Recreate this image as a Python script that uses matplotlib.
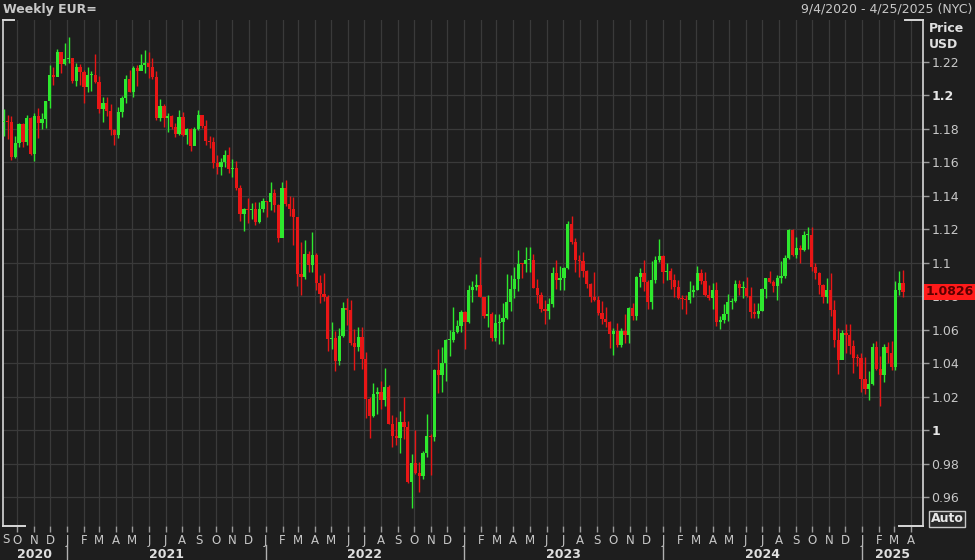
import matplotlib
matplotlib.use("Agg")
import matplotlib.pyplot as plt
import matplotlib.dates as mdates
import matplotlib.transforms as mtransforms
import numpy as np
import pandas as pd

# ---------------- data (weekly EUR/USD) ----------------
first_week = "2020-09-04"
first_open = 1.1905

close = [
    1.1837, 1.1845, 1.1838, 1.1631, 1.1715, 1.1826, 1.1717, 1.1860, 1.1647, 1.1876,
    1.1834, 1.1857, 1.1963, 1.2122, 1.2110, 1.2256, 1.2187, 1.2216, 1.2219, 1.2082,
    1.2170, 1.2136, 1.2046, 1.2118, 1.2120, 1.2075, 1.1915, 1.1952, 1.1904, 1.1794,
    1.1762, 1.1900, 1.1984, 1.2097, 1.2020, 1.2164, 1.2146, 1.2180, 1.2193, 1.2166,
    1.2108, 1.1864, 1.1937, 1.1865, 1.1876, 1.1810, 1.1770, 1.1870, 1.1761, 1.1795,
    1.1697, 1.1795, 1.1880, 1.1813, 1.1727, 1.1720, 1.1596, 1.1570, 1.1601, 1.1644,
    1.1558, 1.1567, 1.1446, 1.1289, 1.1318, 1.1315, 1.1317, 1.1239, 1.1320, 1.1370,
    1.1359, 1.1413, 1.1343, 1.1146, 1.1446, 1.1350, 1.1321, 1.1269, 1.0929, 1.0912,
    1.1050, 1.0983, 1.1046, 1.0876, 1.0811, 1.0797, 1.0545, 1.0551, 1.0412, 1.0562,
    1.0730, 1.0719, 1.0520, 1.0497, 1.0555, 1.0425, 1.0186, 1.0081, 1.0212, 1.0225,
    1.0182, 1.0258, 1.0037, 0.9965, 0.9953, 1.0045, 1.0016, 0.9690, 0.9802, 0.9741,
    0.9723, 0.9863, 0.9965, 0.9960, 1.0356, 1.0326, 1.0398, 1.0537, 1.0537, 1.0585,
    1.0618, 1.0705, 1.0643, 1.0834, 1.0855, 1.0868, 1.0796, 1.0678, 1.0694, 1.0548,
    1.0637, 1.0642, 1.0671, 1.0762, 1.0840, 1.0903, 1.0993, 1.0991, 1.1015, 1.1017,
    1.0850, 1.0805, 1.0722, 1.0708, 1.0750, 1.0940, 1.0895, 1.0910, 1.0969, 1.1228,
    1.1125, 1.1016, 1.1007, 1.0949, 1.0871, 1.0795, 1.0775, 1.0699, 1.0660, 1.0646,
    1.0573, 1.0589, 1.0510, 1.0594, 1.0566, 1.0728, 1.0683, 1.0914, 1.0940, 1.0885,
    1.0763, 1.0896, 1.1012, 1.1039, 1.0942, 1.0950, 1.0897, 1.0853, 1.0788, 1.0784,
    1.0776, 1.0821, 1.0838, 1.0938, 1.0888, 1.0808, 1.0790, 1.0837, 1.0642, 1.0656,
    1.0693, 1.0762, 1.0771, 1.0870, 1.0847, 1.0848, 1.0801, 1.0704, 1.0692, 1.0713,
    1.0840, 1.0908, 1.0883, 1.0857, 1.0910, 1.0917, 1.1027, 1.1192, 1.1047, 1.1085,
    1.1076, 1.1163, 1.1164, 1.0975, 1.0937, 1.0867, 1.0797, 1.0834, 1.0718, 1.0540,
    1.0416, 1.0577, 1.0567, 1.0500, 1.0428, 1.0427, 1.0307, 1.0244, 1.0272, 1.0496,
    1.0362, 1.0329, 1.0493, 1.0459, 1.0375, 1.0833, 1.0879, 1.0826,
]

high = [
    1.2011, 1.1917, 1.1882, 1.1873, 1.1754, 1.1831, 1.1830, 1.1881, 1.1870, 1.1892,
    1.1920, 1.1891, 1.1964, 1.2177, 1.2167, 1.2273, 1.2250, 1.2310, 1.2349, 1.2223,
    1.2190, 1.2184, 1.2150, 1.2169, 1.2146, 1.2243, 1.2114, 1.1990, 1.1989, 1.1945,
    1.1797, 1.1927, 1.1994, 1.2117, 1.2150, 1.2173, 1.2182, 1.2245, 1.2266, 1.2254,
    1.2218, 1.2145, 1.1975, 1.1944, 1.1895, 1.1880, 1.1835, 1.1909, 1.1900, 1.1804,
    1.1802, 1.1807, 1.1909, 1.1883, 1.1849, 1.1755, 1.1750, 1.1640, 1.1624, 1.1669,
    1.1692, 1.1616, 1.1608, 1.1464, 1.1325, 1.1383, 1.1355, 1.1360, 1.1360, 1.1386,
    1.1368, 1.1482, 1.1438, 1.1347, 1.1483, 1.1495, 1.1395, 1.1391, 1.1270, 1.1121,
    1.1137, 1.1070, 1.1185, 1.1054, 1.0924, 1.0936, 1.0806, 1.0642, 1.0594, 1.0607,
    1.0765, 1.0787, 1.0774, 1.0601, 1.0614, 1.0615, 1.0463, 1.0200, 1.0279, 1.0255,
    1.0293, 1.0369, 1.0268, 1.0090, 1.0079, 1.0113, 1.0198, 1.0051, 0.9854, 0.9999,
    0.9809, 0.9874, 1.0094, 0.9976, 1.0364, 1.0481, 1.0497, 1.0545, 1.0595, 1.0737,
    1.0659, 1.0714, 1.0713, 1.0868, 1.0887, 1.0929, 1.1033, 1.0794, 1.0805, 1.0705,
    1.0691, 1.0695, 1.0760, 1.0930, 1.0925, 1.0973, 1.1075, 1.0999, 1.1095, 1.1092,
    1.1050, 1.0904, 1.0826, 1.0779, 1.0787, 1.0971, 1.1012, 1.0977, 1.0975, 1.1245,
    1.1276, 1.1149, 1.1046, 1.1065, 1.0955, 1.0876, 1.0945, 1.0800, 1.0769, 1.0737,
    1.0652, 1.0610, 1.0640, 1.0609, 1.0695, 1.0732, 1.0756, 1.0918, 1.0965, 1.1017,
    1.0895, 1.1009, 1.1040, 1.1140, 1.1046, 1.0998, 1.0970, 1.0932, 1.0897, 1.0806,
    1.0806, 1.0888, 1.0865, 1.0981, 1.0964, 1.0942, 1.0865, 1.0876, 1.0885, 1.0679,
    1.0754, 1.0812, 1.0791, 1.0895, 1.0895, 1.0889, 1.0916, 1.0852, 1.0761, 1.0760,
    1.0845, 1.0910, 1.0948, 1.0898, 1.0925, 1.1009, 1.1047, 1.1200, 1.1202, 1.1155,
    1.1102, 1.1189, 1.1214, 1.1209, 1.0995, 1.0942, 1.0873, 1.0905, 1.0937, 1.0774,
    1.0610, 1.0597, 1.0630, 1.0630, 1.0536, 1.0456, 1.0458, 1.0437, 1.0354, 1.0521,
    1.0533, 1.0443, 1.0513, 1.0528, 1.0529, 1.0888, 1.0947, 1.0955,
]

low = [
    1.1789, 1.1753, 1.1737, 1.1612, 1.1625, 1.1689, 1.1689, 1.1703, 1.1641, 1.1603,
    1.1745, 1.1800, 1.1801, 1.1923, 1.2058, 1.2126, 1.2130, 1.2178, 1.2193, 1.2074,
    1.2054, 1.2059, 1.1952, 1.2020, 1.2023, 1.2070, 1.1894, 1.1836, 1.1873, 1.1762,
    1.1704, 1.1742, 1.1867, 1.1951, 1.2017, 1.1986, 1.2051, 1.2160, 1.2134, 1.2104,
    1.2094, 1.1848, 1.1847, 1.1807, 1.1782, 1.1795, 1.1752, 1.1760, 1.1758, 1.1706,
    1.1664, 1.1702, 1.1791, 1.1801, 1.1700, 1.1684, 1.1563, 1.1529, 1.1522, 1.1571,
    1.1535, 1.1513, 1.1433, 1.1250, 1.1186, 1.1235, 1.1262, 1.1222, 1.1237, 1.1300,
    1.1272, 1.1313, 1.1301, 1.1121, 1.1154, 1.1340, 1.1280, 1.1106, 1.0862, 1.0806,
    1.0899, 1.0945, 1.0945, 1.0837, 1.0757, 1.0771, 1.0471, 1.0483, 1.0350, 1.0389,
    1.0554, 1.0628, 1.0507, 1.0359, 1.0469, 1.0366, 1.0072, 0.9952, 1.0079, 1.0097,
    1.0123, 1.0141, 1.0034, 0.9900, 0.9910, 0.9864, 0.9945, 0.9685, 0.9536, 0.9735,
    0.9632, 0.9705, 0.9841, 0.9730, 0.9936, 1.0223, 1.0224, 1.0290, 1.0443, 1.0525,
    1.0577, 1.0587, 1.0483, 1.0637, 1.0766, 1.0833, 1.0794, 1.0669, 1.0613, 1.0533,
    1.0533, 1.0516, 1.0516, 1.0660, 1.0713, 1.0788, 1.0830, 1.0908, 1.0944, 1.0941,
    1.0848, 1.0760, 1.0707, 1.0635, 1.0663, 1.0732, 1.0844, 1.0835, 1.0833, 1.0963,
    1.1113, 1.0944, 1.0912, 1.0916, 1.0845, 1.0766, 1.0771, 1.0686, 1.0632, 1.0615,
    1.0488, 1.0448, 1.0496, 1.0497, 1.0522, 1.0517, 1.0657, 1.0655, 1.0853, 1.0828,
    1.0723, 1.0723, 1.0880, 1.1004, 1.0877, 1.0897, 1.0844, 1.0795, 1.0780, 1.0722,
    1.0695, 1.0761, 1.0796, 1.0835, 1.0873, 1.0802, 1.0776, 1.0724, 1.0622, 1.0601,
    1.0639, 1.0650, 1.0724, 1.0765, 1.0805, 1.0788, 1.0795, 1.0668, 1.0671, 1.0666,
    1.0710, 1.0790, 1.0877, 1.0825, 1.0777, 1.0880, 1.0908, 1.1020, 1.1040, 1.1026,
    1.0999, 1.1068, 1.1083, 1.0951, 1.0902, 1.0811, 1.0761, 1.0760, 1.0682, 1.0496,
    1.0332, 1.0424, 1.0460, 1.0452, 1.0343, 1.0380, 1.0226, 1.0215, 1.0178, 1.0266,
    1.0358, 1.0141, 1.0284, 1.0401, 1.0359, 1.0360, 1.0807, 1.0797,
]

price_ticks = [0.96, 0.98, 1.00, 1.02, 1.04, 1.06, 1.08, 1.10, 1.12, 1.14, 1.16, 1.18, 1.20, 1.22]
price_labels = ["0.96", "0.98", "1", "1.02", "1.04", "1.06", "1.08", "1.1", "1.12", "1.14",
                "1.16", "1.18", "1.2", "1.22"]
last_label = "1.0826"
title_left = "Weekly EUR="
title_right = "9/4/2020 - 4/25/2025 (NYC)"
years = [2020, 2021, 2022, 2023, 2024, 2025]

# ---------------- styling ----------------
BG = "#1e1e1e"
GRID = "#3a3a3a"
TXT = "#c8c8c8"
UP = "#2ee82e"
DOWN = "#e81616"
NARROW = ["Liberation Sans Narrow", "DejaVu Sans"]

W, H = 975, 560
fig = plt.figure(figsize=(W / 100, H / 100), dpi=100, facecolor=BG)
ax_l, ax_r, ax_t, ax_b = 3, 923, 20, 526
ax = fig.add_axes([ax_l / W, 1 - ax_b / H, (ax_r - ax_l) / W, (ax_b - ax_t) / H])
ax.set_facecolor(BG)

n = len(close)
fridays = pd.date_range(first_week, periods=n, freq="W-FRI")
pos = mdates.date2num(fridays - pd.Timedelta(days=4))
opens = np.array([first_open] + close[:-1])
closes = np.array(close)
highs = np.array(high)
lows = np.array(low)
up = closes >= opens
colors = np.where(up, UP, DOWN)

ax.vlines(pos, lows, highs, colors=colors, linewidth=1.0, zorder=3)
body_bottom = np.minimum(opens, closes)
body_h = np.maximum(np.abs(closes - opens), 0.0007)
ax.bar(pos, body_h, bottom=body_bottom, width=6.0, color=colors, edgecolor="none",
       zorder=4)

# axes limits: 3.81 px per week, Jan 1 2021 at x=67 px
ref = mdates.date2num(pd.Timestamp("2021-01-01"))
px_per_day = 3.81 / 7
ax.set_xlim(ref - (67 - ax_l) / px_per_day, ref + (ax_r - 67) / px_per_day)
px_per_unit = 1675.0
ax.set_ylim(1 - (ax_b - 430) / px_per_unit, 1 + (430 - ax_t) / px_per_unit)

# month ticks (September 2020 starts just left of the frame; its label is pinned)
months = pd.date_range("2020-10-01", "2025-04-01", freq="MS")
mnum = mdates.date2num(months)
ax.set_xticks(mnum)
ax.set_xticklabels([m.strftime("%b")[0] for m in months])
ax.tick_params(axis="x", colors="#9a9a9a", labelcolor=TXT, length=4, width=1,
               labelsize=8.5, pad=2, direction="out")
for lbl in ax.get_xticklabels():
    lbl.set_fontfamily(NARROW)
fig.text(2 / W, 1 - 533 / H, "S", ha="left", va="top", color=TXT,
         fontsize=8.5, family=NARROW)

# price axis on the right
ax.yaxis.tick_right()
ax.set_yticks(price_ticks)
ax.set_yticklabels(price_labels)
ax.tick_params(axis="y", colors="#9a9a9a", labelcolor=TXT, length=4, width=1,
               labelsize=9, pad=2)
for lbl in ax.get_yticklabels():
    if lbl.get_text() in ("1", "1.2"):
        lbl.set_fontweight("bold")
        lbl.set_color("#e6e6e6")

ax.grid(True, color=GRID, linewidth=0.9)
ax.set_axisbelow(True)

for s in ("top", "bottom"):
    ax.spines[s].set_visible(False)
for s in ("left", "right"):
    ax.spines[s].set_color("#d8d8d8")
    ax.spines[s].set_linewidth(1.2)

# corner brackets
def hline_px(x0, x1, y):
    fig.add_artist(plt.Line2D([x0 / W, x1 / W], [1 - y / H, 1 - y / H],
                              color="#d8d8d8", linewidth=1.4))

hline_px(ax_l, 14, ax_t)
hline_px(905, ax_r, ax_t)
hline_px(ax_l, 25, ax_b)
hline_px(899, ax_r, ax_b)

# year labels and separators
trans = mtransforms.blended_transform_factory(ax.transData, fig.transFigure)
xmin, xmax = ax.get_xlim()
for y in years:
    a = max(mdates.date2num(pd.Timestamp(f"{y}-01-01")), xmin)
    b = min(mdates.date2num(pd.Timestamp(f"{y + 1}-01-01")), xmax)
    ax.text((a + b) / 2, 1 - 554 / H, str(y), transform=trans, ha="center",
            va="center", color="#e0e0e0", fontsize=9, fontweight="bold",
            clip_on=False)
    if y > years[0]:
        sx = mdates.date2num(pd.Timestamp(f"{y}-01-01"))
        ax.add_line(plt.Line2D([sx, sx], [0.0, 1 - 545 / H], transform=trans,
                               color="#b0b0b0", linewidth=1, clip_on=False))

# titles
fig.text(3 / W, 1 - 9 / H, title_left, ha="left", va="center", color=TXT,
         fontsize=9, fontweight="bold", family=NARROW)
fig.text(972 / W, 1 - 9 / H, title_right, ha="right", va="center", color=TXT,
         fontsize=9, family=NARROW)
fig.text(929 / W, 1 - 28 / H, "Price", ha="left", va="center", color="#e0e0e0",
         fontsize=9, fontweight="bold")
fig.text(929 / W, 1 - 45 / H, "USD", ha="left", va="center", color="#e0e0e0",
         fontsize=9, fontweight="bold")

# last price tag
ylast = 430 - (close[-1] - 1) * px_per_unit
fig.patches.append(plt.Rectangle((ax_r / W + 0.001, 1 - (ylast + 8) / H), (W - ax_r) / W,
                                 16 / H, transform=fig.transFigure, facecolor="#ff1a1a",
                                 edgecolor="none", zorder=10))
fig.text(926 / W, 1 - ylast / H, last_label, ha="left", va="center", color="#5a0000",
         fontsize=9, fontweight="bold", zorder=11)

# Auto box
fig.text(947 / W, 1 - 519 / H, "Auto", ha="center", va="center", color="#e8e8e8",
         fontsize=9, fontweight="bold",
         bbox=dict(boxstyle="square,pad=0.15", facecolor="#2a2a2a", edgecolor="#c8c8c8",
                   linewidth=1))

fig.savefig("out.png", dpi=100, facecolor=BG)
